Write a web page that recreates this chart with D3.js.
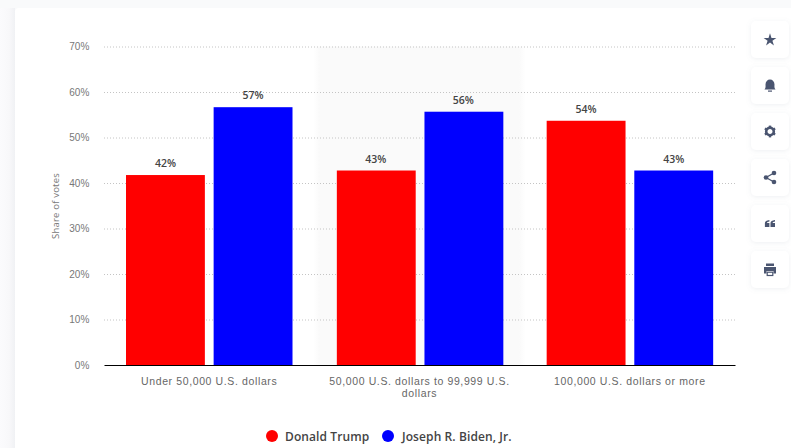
<!DOCTYPE html>
<html><head><meta charset="utf-8">
<script src="https://cdn.jsdelivr.net/npm/d3@7/dist/d3.min.js"></script>
<style>
html,body{margin:0;padding:0;background:#f9fafb;overflow:hidden}
svg{display:block;font-family:"Open Sans",sans-serif}
</style></head><body><svg id="c" width="791" height="448"></svg>
<script>
const categories=["Under 50,000 U.S. dollars","50,000 U.S. dollars to 99,999 U.S. dollars","100,000 U.S. dollars or more"];
const categoryLines=[["Under 50,000 U.S. dollars"],["50,000 U.S. dollars to 99,999 U.S.","dollars"],["100,000 U.S. dollars or more"]];
const seriesNames=["Donald Trump","Joseph R. Biden, Jr."];
const trump=[42,43,54];
const biden=[57,56,43];
const seriesColors=["#ff0000","#0000ff"];
const yTicks=[0,10,20,30,40,50,60,70];
const yTitle="Share of votes";
const tools=["star","bell","gear","share","quote","print"];

const svg=d3.select("#c");
const defs=svg.append("defs");
const f=defs.append("filter").attr("id","sh").attr("x","-30%").attr("y","-30%").attr("width","160%").attr("height","160%");
f.append("feDropShadow").attr("dx",0).attr("dy",1).attr("stdDeviation",2.5).attr("flood-color","#8a94a6").attr("flood-opacity",.14);
const lg=defs.append("linearGradient").attr("id","left");
[[0,"#fbfbfd"],[.6,"#f8f8fa"],[1,"#f0f1f4"]].forEach(s=>lg.append("stop").attr("offset",s[0]).attr("stop-color",s[1]));
const gr=defs.append("linearGradient").attr("id","band");
[[0,0],[.03,1],[.97,1],[1,0]].forEach(s=>gr.append("stop").attr("offset",s[0]).attr("stop-color","#fafafa").attr("stop-opacity",s[1]));

svg.append("rect").attr("x",0).attr("y",8).attr("width",15).attr("height",440).attr("fill","url(#left)");
svg.append("rect").attr("x",15).attr("y",8).attr("width",790).attr("height",460).attr("rx",4).attr("fill","#fff");

const x=d3.scaleBand().domain(categories).range([104,735]);
const xi=d3.scaleBand().domain(seriesNames).range([22,188.5]).paddingInner(.1);
const y=d3.scaleLinear().domain([0,70]).range([365,46.5]);
const yBar=d3.scaleLinear().domain([0,70]).range([365,48.4]);

svg.append("rect").attr("x",x(categories[1])-1).attr("y",y(70)).attr("width",x.bandwidth()+2).attr("height",y(0)-y(70)).attr("fill","url(#band)");

const gy=svg.append("g").attr("transform","translate(104,0)").call(d3.axisLeft(y).tickValues(yTicks).tickFormat(d=>d+"%").tickSize(0).tickPadding(14.5));
gy.select(".domain").remove();
gy.selectAll("text").attr("font-size",10).attr("font-family","inherit").attr("fill","#777").attr("letter-spacing",".1");
gy.selectAll(".tick").filter(d=>d>0).append("line").attr("x1",0).attr("x2",631).attr("stroke","#c4c4c4").attr("stroke-width",1).attr("stroke-dasharray","1 2");

svg.append("text").attr("transform","translate(59,206) rotate(-90)").attr("text-anchor","middle").attr("font-size",9.5).attr("fill","#777").attr("letter-spacing",".2").text(yTitle);

[trump,biden].forEach((vals,si)=>{
  const g=svg.append("g");
  g.selectAll("rect").data(vals).join("rect")
   .attr("x",(d,i)=>x(categories[i])+xi(seriesNames[si])+(i===1?.5:0))
   .attr("y",d=>yBar(d)).attr("width",xi.bandwidth()).attr("height",d=>yBar(0)-yBar(d))
   .attr("fill",seriesColors[si]);
  g.selectAll("text").data(vals).join("text")
   .attr("x",(d,i)=>x(categories[i])+xi(seriesNames[si])+xi.bandwidth()/2)
   .attr("y",d=>yBar(d)-8).attr("text-anchor","middle").attr("font-size",10.5).attr("font-weight",600).attr("fill","#444").text(d=>d+"%");
});

const gx=svg.append("g").attr("transform","translate(0,365)").call(d3.axisBottom(x).tickSize(0).tickFormat(()=>""));
gx.select(".domain").attr("stroke","#000").attr("stroke-width",1);
gx.selectAll(".tick").each(function(d,i){
  const t=d3.select(this).select("text").attr("y",0).attr("dy",null).text(null).attr("font-size",10.5).attr("font-family","inherit").attr("fill","#666").attr("letter-spacing",".62");
  categoryLines[i].forEach((l,k)=>t.append("tspan").attr("x",0).attr("y",20+k*12).text(l));
});

const lx=[272,388];
const lt=[285,402];
seriesNames.forEach((n,i)=>{
  svg.append("circle").attr("cx",lx[i]).attr("cy",436).attr("r",6).attr("fill",seriesColors[i]);
  svg.append("text").attr("x",lt[i]).attr("y",441).attr("font-size",12).attr("font-weight",600).attr("letter-spacing",".1").attr("fill","#444").text(n);
});

const ic="#4a5570";
const iconDraw={
 star:g=>g.append("path").attr("d",d3.symbol(d3.symbolStar,50)()).attr("transform","translate(0,.5)"),
 bell:g=>{g.append("path").attr("d","M-5.5 4 C-4 2-4.5 1-4.5-1 C-4.5-4-2.5-6 0-6 C2.5-6 4.5-4 4.5-1 C4.5 1 4 2 5.5 4 Z");g.append("rect").attr("x",-2).attr("y",5).attr("width",4).attr("height",1.2);},
 gear:g=>{g.append("circle").attr("r",3.8).attr("fill","none").attr("stroke",ic).attr("stroke-width",2.6);d3.range(6).forEach(k=>g.append("rect").attr("x",-1.2).attr("y",-5.9).attr("width",2.4).attr("height",2.2).attr("transform",`rotate(${k*60})`));},
 share:g=>{[[-4,0],[4,-4.5],[4,4.5]].forEach(p=>g.append("circle").attr("cx",p[0]).attr("cy",p[1]).attr("r",2.3));g.append("path").attr("d","M4-4.5L-4 0L4 4.5").attr("fill","none").attr("stroke",ic).attr("stroke-width",1.3);},
 quote:g=>{[-2.8,2.8].forEach(c=>{g.append("path").attr("d",`M${c-2.3} 3.5 V-.5 Q${c-2.3}-3 ${c+2.2}-3.5 V-2 Q${c-.3}-2 ${c-.3}-.5 H${c+2.2} V3.5 Z`);});},
 print:g=>{g.append("path").attr("d","M-6-2.5H6V4H3.5V1.5H-3.5V4H-6Z");g.append("path").attr("d","M-4-3.5V-6H4V-3.5Z");g.append("rect").attr("x",-2.8).attr("y",2.7).attr("width",5.6).attr("height",3.3).attr("fill","#fff").attr("stroke",ic).attr("stroke-width",1.2);}
};
tools.forEach((t,i)=>{
  const top=21+i*46;
  svg.append("rect").attr("x",751).attr("y",top).attr("width",38).attr("height",37).attr("rx",5).attr("fill","#fff").attr("filter","url(#sh)");
  const g=svg.append("g").attr("transform",`translate(770,${top+18.5})`).attr("fill",ic);
  iconDraw[t](g);
});
</script></body></html>
